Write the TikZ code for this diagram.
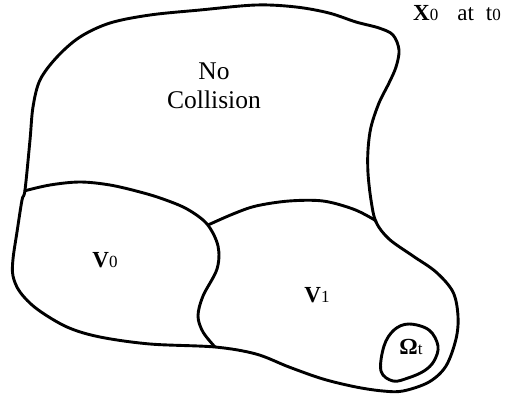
\documentclass[tikz,border=0pt]{standalone}
\usepackage{fontspec}
\setmainfont{Liberation Serif}
\usetikzlibrary{positioning}
\newcommand{\lbl}{\fontsize{23}{29}\selectfont}
\newcommand{\biglbl}{\fontsize{25.5}{28.5}\selectfont}
\newcommand{\idx}[1]{{\fontsize{17}{17}\selectfont #1}}
\tikzset{
  region/.style={line width=2.9pt, line join=round},
  label text/.style={font=\lbl, inner sep=0pt, align=center}
}
\begin{document}
\begin{tikzpicture}[x=1pt, y=-1pt]
        \useasboundingbox (0,0) rectangle (512,399);

        % Outer boundary
        \draw[region] plot[smooth cycle, tension=0.55] coordinates {
          (25,190) (30,140) (33,107) (40,80) (57,57) (80,37) (110,23) (150,15)
          (200,10) (256,5) (296,7) (329,13) (356,22) (379,28) (393,35) (399,50)
          (396,67) (389,83) (379,103) (371,127) (368,150) (368,173) (371,200)
          (376,222) (389,239) (413,256) (436,272) (453,292) (458,316) (456,339)
          (446,366) (429,382) (403,391) (383,391) (356,387) (323,379) (289,367)
          (256,354) (215,347) (150,344) (100,337) (67,327) (37,309) (20,292)
          (13,276) (13,259) (17,232) (22,200)};

        % Border between no collision and V0, then V0 and V1
        \draw[region] plot[smooth, tension=0.55] coordinates {
          (24,191) (50,185) (80,182) (110,185) (140,192) (163,199) (187,209)
          (207,224) (218,246) (217,269) (203,296) (198,316) (203,332) (215,347)};

        % Top border of V1
        \draw[region] plot[smooth, tension=0.55] coordinates {
          (208,225) (233,214) (256,206) (289,201) (323,201) (353,209) (373,219) (376,222)};

        % Small loop
        \draw[region] plot[smooth cycle, tension=0.6] coordinates {
          (409,324) (429,330) (438,346) (434,361) (424,371) (408,378) (393,381)
          (381,371) (384,346) (394,330)};

        % Labels
        \node[label text, font=\biglbl, anchor=base] (nocoll) at (214,108) {No\\Collision};
        \node[label text, anchor=base] (vzero) at (105,267) {\textbf{V}\idx{0}};
        \node[label text, anchor=base] (vone) at (317,302) {\textbf{V}\idx{1}};
        \node[label text, anchor=base] (omega) at (411,354) {\textbf{Ω}\idx{t}};
        \node[label text, anchor=base west] (xzero) at (413,20)
          {\textbf{X}\idx{0}\hspace{19pt}at\hspace{12pt}t\idx{0}};

    \end{tikzpicture}
\end{document}
